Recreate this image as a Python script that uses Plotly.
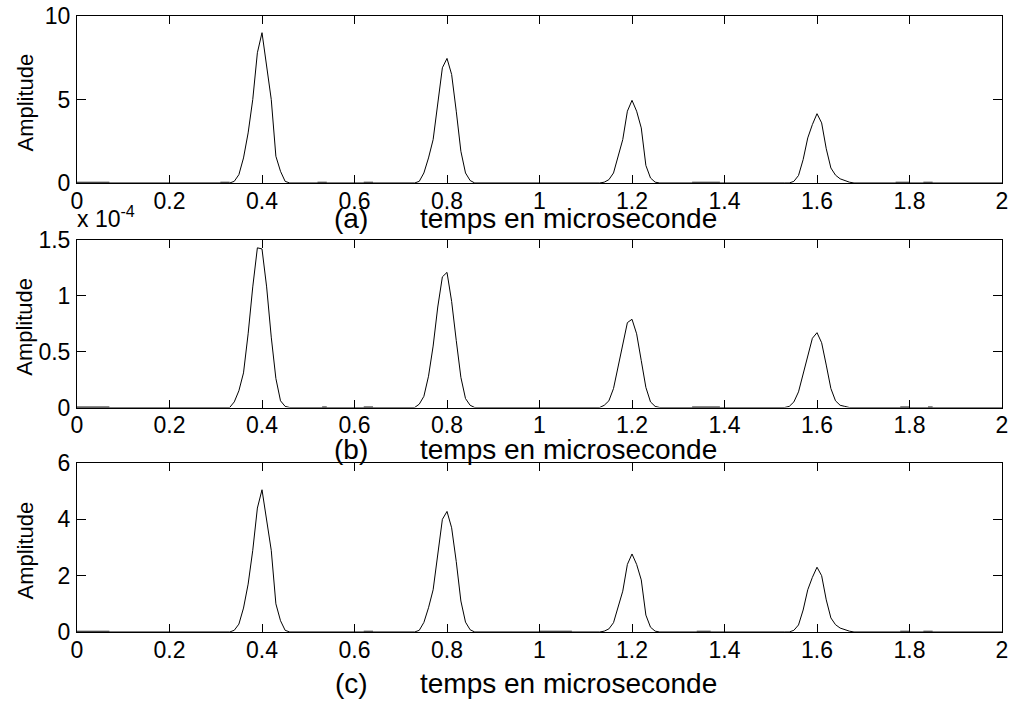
import plotly.graph_objects as go

# ---- data (time in microseconds) ----
T_START = [0.0]
T_P1 = [0.33, 0.34, 0.35, 0.36, 0.37, 0.38, 0.39, 0.40, 0.41, 0.42, 0.43, 0.44, 0.45, 0.46]
T_P2 = [0.73, 0.74, 0.75, 0.76, 0.77, 0.78, 0.79, 0.80, 0.81, 0.82, 0.83, 0.84, 0.85, 0.86]
T_P3 = [1.13, 1.14, 1.15, 1.16, 1.17, 1.18, 1.19, 1.20, 1.21, 1.22, 1.23, 1.24, 1.25, 1.26]
T_P4 = [1.53, 1.54, 1.55, 1.56, 1.57, 1.58, 1.59, 1.60, 1.61, 1.62, 1.63, 1.64, 1.65, 1.66, 1.67, 1.68]
T_END = [2.0]

# panel (a)
A_P1 = [0, 0.1, 0.5, 1.5, 3.0, 5.0, 7.8, 9.0, 7.0, 5.0, 1.6, 0.7, 0.1, 0]
A_P2 = [0, 0.1, 0.6, 1.5, 2.6, 4.9, 6.9, 7.46, 6.5, 4.3, 1.9, 0.6, 0.15, 0]
A_P3 = [0, 0.05, 0.2, 0.6, 1.6, 2.6, 4.3, 4.95, 4.3, 3.3, 1.05, 0.3, 0.05, 0]
A_P4 = [0, 0, 0.1, 0.45, 1.4, 2.7, 3.5, 4.15, 3.6, 2.05, 0.9, 0.47, 0.25, 0.15, 0.05, 0]

# panel (b), values in units of 1e-4
B_SCALE = 1e-4
B_P1 = [0, 0.05, 0.15, 0.31, 0.66, 1.08, 1.43, 1.42, 1.08, 0.63, 0.26, 0.06, 0.01, 0]
B_P2 = [0, 0.03, 0.1, 0.28, 0.55, 0.9, 1.17, 1.21, 0.95, 0.6, 0.27, 0.08, 0.02, 0]
B_P3 = [0, 0.02, 0.06, 0.17, 0.36, 0.58, 0.76, 0.79, 0.66, 0.42, 0.18, 0.05, 0.01, 0]
B_P4 = [0, 0.01, 0.05, 0.14, 0.3, 0.48, 0.62, 0.67, 0.58, 0.38, 0.17, 0.06, 0.02, 0.01, 0, 0]

# panel (c)
C_P1 = [0, 0.06, 0.28, 0.85, 1.7, 2.9, 4.4, 5.05, 4.0, 2.9, 1.0, 0.4, 0.06, 0]
C_P2 = [0, 0.06, 0.34, 0.86, 1.5, 2.8, 4.0, 4.28, 3.7, 2.5, 1.1, 0.35, 0.08, 0]
C_P3 = [0, 0.03, 0.11, 0.33, 0.9, 1.45, 2.4, 2.77, 2.4, 1.85, 0.6, 0.17, 0.03, 0]
C_P4 = [0, 0, 0.06, 0.25, 0.78, 1.5, 1.94, 2.3, 2.0, 1.14, 0.5, 0.26, 0.14, 0.08, 0.03, 0]

# small low-level ripple stretches along the baseline (start, end) per panel
NOISE_A = [(0.0, 0.07), (0.31, 0.33), (0.52, 0.54), (0.62, 0.64), (1.33, 1.39), (1.77, 1.80), (1.83, 1.85)]
NOISE_B = [(0.0, 0.07), (0.53, 0.54), (0.62, 0.64), (1.33, 1.39), (1.78, 1.80), (1.84, 1.85)]
NOISE_C = [(0.0, 0.07), (0.62, 0.64), (1.0, 1.07), (1.34, 1.37), (1.78, 1.80), (1.83, 1.85)]

X_TICKS = [0, 0.2, 0.4, 0.6, 0.8, 1.0, 1.2, 1.4, 1.6, 1.8, 2.0]
X_TICK_LABELS = ["0", "0.2", "0.4", "0.6", "0.8", "1", "1.2", "1.4", "1.6", "1.8", "2"]
YA_TICKS = [0, 5, 10]
YB_TICKS = [0, 0.5, 1.0, 1.5]
YB_TICK_LABELS = ["0", "0.5", "1", "1.5"]
YC_TICKS = [0, 2, 4, 6]
PANEL_LABELS = ["(a)", "(b)", "(c)"]
XLABEL = "temps en microseconde"
YLABEL = "Amplitude"

T_ALL = T_START + T_P1 + T_P2 + T_P3 + T_P4 + T_END
YA = [0] + A_P1 + A_P2 + A_P3 + A_P4 + [0]
YB = [0] + B_P1 + B_P2 + B_P3 + B_P4 + [0]
YC = [0] + C_P1 + C_P2 + C_P3 + C_P4 + [0]

W, H = 1014, 702
FONT = "Liberation Sans, Arial, Helvetica, sans-serif"

# panel pixel boxes (top, bottom)
X0, X1 = 77, 1002
PANELS = [(16, 183), (240, 407.5), (463, 632)]

def px(v):
    return v / W

def py(v):
    return 1 - v / H

fig = go.Figure()
for i, (ys, noise) in enumerate([(YA, NOISE_A), (YB, NOISE_B), (YC, NOISE_C)]):
    suffix = "" if i == 0 else str(i + 1)
    nx, ny = [], []
    for s, e in noise:
        nx += [s, e, None]
        ny += [0, 0, None]
    fig.add_trace(go.Scatter(x=nx, y=ny, mode="lines",
                             line=dict(color="#8a8a8a", width=3),
                             xaxis="x" + suffix, yaxis="y" + suffix,
                             showlegend=False, hoverinfo="skip", cliponaxis=False))
    fig.add_trace(go.Scatter(x=T_ALL, y=ys, mode="lines",
                             line=dict(color="black", width=1),
                             xaxis="x" + suffix, yaxis="y" + suffix,
                             showlegend=False, hoverinfo="skip"))

common_axis = dict(showline=True, linecolor="black", linewidth=1, mirror="ticks",
                   ticks="inside", tickcolor="black", tickwidth=1, automargin=False,
                   showgrid=False, zeroline=False,
                   tickfont=dict(family=FONT, size=23, color="black"))

yranges = [[0, 10], [0, 1.5], [0, 6]]
yticks = [(YA_TICKS, ["0", "5", "10"]), (YB_TICKS, YB_TICK_LABELS), (YC_TICKS, ["0", "2", "4", "6"])]

layout = dict(width=W, height=H, margin=dict(l=0, r=0, t=0, b=0, autoexpand=False),
              template="none",
              paper_bgcolor="white", plot_bgcolor="white", showlegend=False)
for i, (top, bot) in enumerate(PANELS):
    suffix = "" if i == 0 else str(i + 1)
    layout["xaxis" + suffix] = dict(common_axis, domain=[px(X0), px(X1)], range=[0, 2],
                                    tickvals=X_TICKS, ticktext=X_TICK_LABELS, ticklen=8,
                                    anchor="y" + suffix, ticklabelstandoff=-3)
    layout["yaxis" + suffix] = dict(common_axis, domain=[py(bot), py(top)], range=yranges[i],
                                    tickvals=yticks[i][0], ticktext=yticks[i][1], ticklen=9,
                                    anchor="x" + suffix, ticklabelstandoff=1)
fig.update_layout(**layout)

annotations = []
label_y = [218, 449, 683]
for i, (top, bot) in enumerate(PANELS):
    annotations.append(dict(text=PANEL_LABELS[i], x=px(351), y=py(label_y[i]), xref="paper", yref="paper",
                            showarrow=False, xanchor="center", yanchor="middle",
                            font=dict(family=FONT, size=28, color="black")))
    annotations.append(dict(text=XLABEL, x=px(568), y=py(label_y[i]), xref="paper", yref="paper",
                            showarrow=False, xanchor="center", yanchor="middle",
                            font=dict(family=FONT, size=28, color="black")))
    annotations.append(dict(text=YLABEL, x=px(25), y=py((top + bot) / 2 + 3), xref="paper", yref="paper",
                            showarrow=False, xanchor="center", yanchor="middle", textangle=-90,
                            font=dict(family=FONT, size=22, color="black")))
annotations.append(dict(text="x 10<sup>-4</sup>", x=px(75), y=py(234), xref="paper", yref="paper",
                        showarrow=False, xanchor="left", yanchor="bottom",
                        font=dict(family=FONT, size=23, color="black")))
fig.update_layout(annotations=annotations)

fig.write_html("out.html")
